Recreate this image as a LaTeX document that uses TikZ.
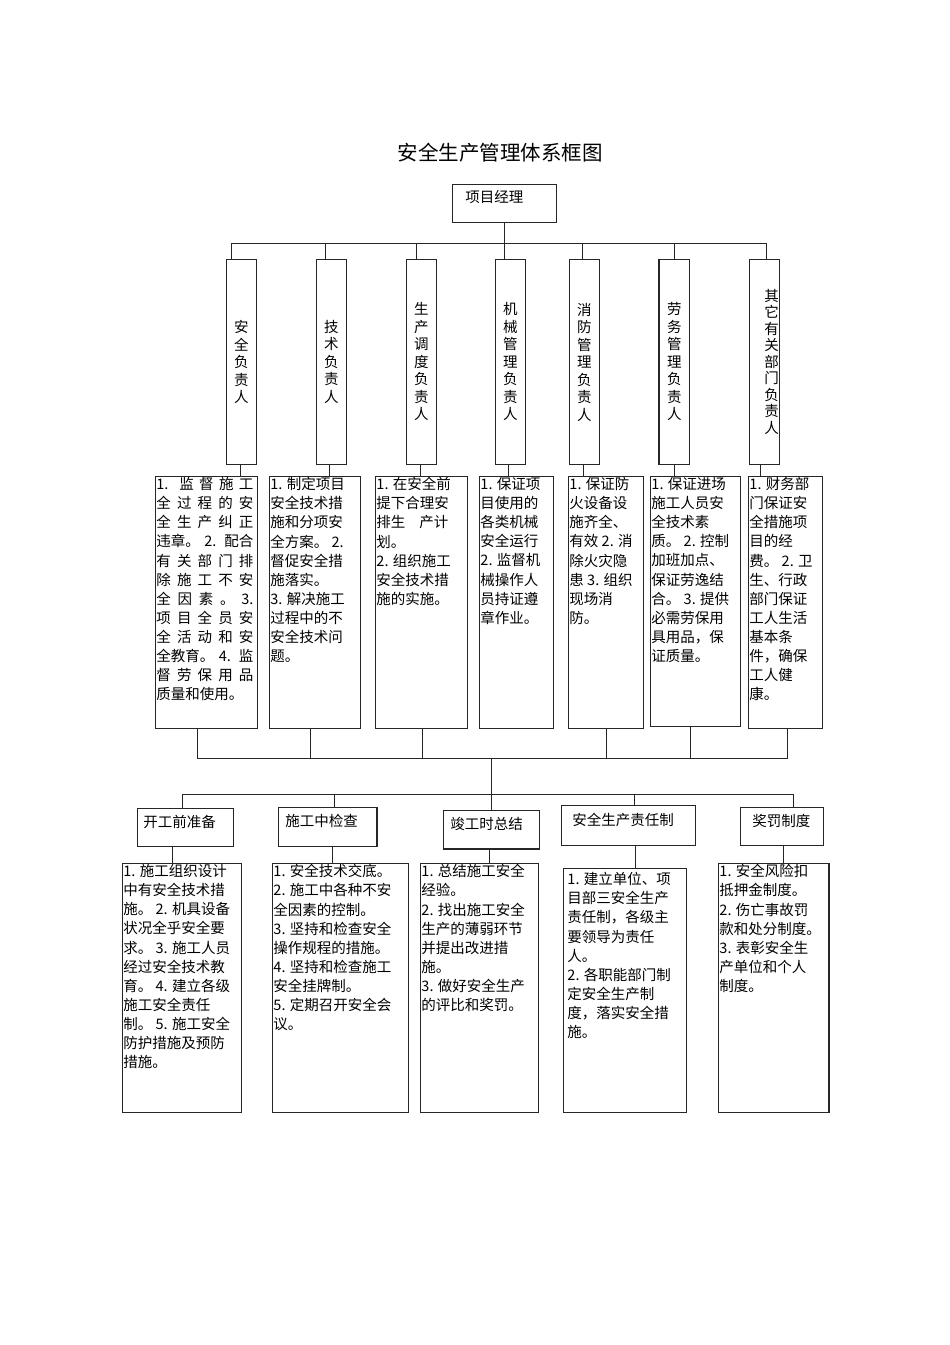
\documentclass[tikz,border=0pt]{standalone}
\usepackage{fontspec}
\setmainfont{Noto Sans CJK SC}

\newcommand\boxtext[3]{\parbox[t][#2][t]{#1}{#3}}
\newcommand\jline[1]{\makebox[97pt][s]{#1}}

\begin{document}
\begin{tikzpicture}[x=1pt, y=-1pt,
  every node/.style={font=\fontsize{14.5}{19.1}\selectfont},
  line/.style={draw=black!85, line width=0.9pt},
  heavy/.style={draw=black!85, line width=1.7pt},
  vbox/.style={line, anchor=north west, minimum width=30pt, minimum height=205pt,
    inner sep=0pt, align=center, font=\fontsize{14.5}{17.5}\selectfont},
  tbox/.style={line, anchor=north west, inner sep=1pt},
  lbox/.style={line, anchor=north west, inner xsep=7pt, inner ysep=7pt}]
\useasboundingbox (0,0) rectangle (950,1345);

\node[font=\fontsize{20.5}{24}\selectfont] (title) at (500,153) {安全生产管理体系框图};
\node[lbox, inner xsep=13pt, inner ysep=6pt] (pm) at (452,184) {\boxtext{78pt}{26pt}{项目经理}};

% responsible persons
\node[vbox] (v1) at (226,259) {安\\全\\负\\责\\人};
\node[vbox] (v2) at (316,259) {技\\术\\负\\责\\人};
\node[vbox] (v3) at (406,259) {生\\产\\调\\度\\负\\责\\人};
\node[vbox] (v4) at (495,259) {机\\械\\管\\理\\负\\责\\人};
\node[vbox] (v5) at (569,259) {消\\防\\管\\理\\负\\责\\人};
\node[vbox] (v6) at (659,259) {劳\\务\\管\\理\\负\\责\\人};
\node[vbox, text width=29pt, inner xsep=0.5pt, align=right,
  font=\fontsize{14.5}{16.5}\selectfont] (v7) at (749,259) {其\\它\\有\\关\\部\\门\\负\\责\\人};

% duties
\node[tbox] (t1) at (155,476) {\boxtext{100pt}{250pt}{\jline{1. 监 督 施 工}\\
  \jline{全 过 程 的 安}\\ \jline{全 生 产 纠 正}\\ \jline{违章。 2. 配合}\\
  \jline{有 关 部 门 排}\\ \jline{除 施 工 不 安}\\ \jline{全 因 素 。 3.}\\
  \jline{项 目 全 员 安}\\ \jline{全 活 动 和 安}\\ \jline{全教育。 4. 监}\\
  \jline{督 劳 保 用 品}\\ 质量和使用。}};
\node[tbox] (t2) at (269,476) {\boxtext{89pt}{250pt}{1. 制定项目\\ 安全技术措\\
  施和分项安\\ 全方案。 2.\\ 督促安全措\\ 施落实。\\ 3. 解决施工\\ 过程中的不\\
  安全技术问\\ 题。}};
\node[tbox] (t3) at (375,476) {\boxtext{90pt}{250pt}{1. 在安全前\\ 提下合理安\\
  \makebox[72pt][s]{排生 产计}\\ 划。\\ 2. 组织施工\\ 安全技术措\\ 施的实施。}};
\node[tbox] (t4) at (479,476) {\boxtext{72pt}{250pt}{1. 保证项\\ 目使用的\\
  各类机械\\ 安全运行\\ 2. 监督机\\ 械操作人\\ 员持证遵\\ 章作业。}};
\node[tbox] (t5) at (568,476) {\boxtext{73pt}{250pt}{1. 保证防\\ 火设备设\\
  施齐全、\\ 有效 2. 消\\ 除火灾隐\\ 患 3. 组织\\ 现场消\\ 防。}};
\node[tbox] (t6) at (650,476) {\boxtext{88pt}{248pt}{1. 保证进场\\ 施工人员安\\
  全技术素\\ 质。 2. 控制\\ 加班加点、\\ 保证劳逸结\\ 合。 3. 提供\\
  必需劳保用\\ 具用品，保\\ 证质量。}};
\node[tbox] (t7) at (748,476) {\boxtext{72pt}{250pt}{1. 财务部\\ 门保证安\\
  全措施项\\ 目的经\\ 费。 2. 卫\\ 生、行政\\ 部门保证\\ 工人生活\\
  基本条\\ 件，确保\\ 工人健\\ 康。}};

% stages
\node[lbox, inner xsep=6pt] (s1) at (137,808) {\boxtext{84pt}{24pt}{开工前准备}};
\node[lbox] (s2) at (278,807) {\boxtext{84pt}{25pt}{施工中检查}};
\node[lbox] (s3) at (443,810) {\boxtext{82pt}{24pt}{竣工时总结}};
\node[lbox, inner xsep=11pt, inner ysep=8pt] (s4) at (561,805) {\boxtext{112pt}{24pt}{安全生产责任制}};
\node[lbox, inner xsep=12pt] (s5) at (740,807) {\boxtext{59pt}{24pt}{奖罚制度}};

% stage details
\node[tbox] (d1) at (122,863) {\boxtext{117pt}{247pt}{1. 施工组织设计\\
  中有安全技术措\\ 施。 2. 机具设备\\ 状况全乎安全要\\ 求。 3. 施工人员\\
  经过安全技术教\\ 育。 4. 建立各级\\ 施工安全责任\\ 制。 5. 施工安全\\
  防护措施及预防\\ 措施。}};
\node[tbox] (d2) at (272,863) {\boxtext{134pt}{247pt}{1. 安全技术交底。\\
  2. 施工中各种不安\\ 全因素的控制。\\ 3. 坚持和检查安全\\ 操作规程的措施。\\
  4. 坚持和检查施工\\ 安全挂牌制。\\ 5. 定期召开安全会\\ 议。}};
\node[tbox] (d3) at (420,863) {\boxtext{116pt}{247pt}{1. 总结施工安全\\
  经验。\\ 2. 找出施工安全\\ 生产的薄弱环节\\ 并提出改进措\\ 施。\\
  3. 做好安全生产\\ 的评比和奖罚。}};
\node[tbox, inner sep=4pt] (d4) at (563,868) {\boxtext{115pt}{236pt}{1. 建立单位、项\\
  目部三安全生产\\ 责任制，各级主\\ 要领导为责任\\ 人。\\ 2. 各职能部门制\\
  定安全生产制\\ 度，落实安全措\\ 施。}};
\node[tbox] (d5) at (718,863) {\boxtext{108pt}{247pt}{1. 安全风险扣\\
  抵押金制度。\\ 2. 伤亡事故罚\\ 款和处分制度。\\ 3. 表彰安全生\\
  产单位和个人\\ 制度。}};

% manager to persons
\draw[line] (pm.south) -- (pm.south |- v4.north);
\draw[line] ([xshift=-10pt]v1.north) -- ++(0,-16) -| ([xshift=1.5pt]v7.north);
\foreach \n/\dx in {2/-6, 3/-5, 5/-2, 6/0} {
  \coordinate (p) at ([xshift=\dx pt]v\n.north);
  \draw[line] (p) -- ++(0,-16);
}

% persons to duties
\foreach \n/\dx in {1/-1, 2/-2, 3/-1, 4/-2, 5/-1, 7/-4.5} {
  \coordinate (p) at ([xshift=\dx pt]v\n.south);
  \draw[line] (p) -- (p |- t\n.north);
}
\draw[heavy] (v6.south) -- (v6.south |- t6.north);

% duties to stages
\coordinate (bus2) at ([yshift=-30pt]t1.south -| s3.north);
\draw[line] ([xshift=-9pt]t1.south |- bus2) -- ([xshift=2pt]t7.south |- bus2);
\draw[heavy] ([xshift=-9pt]t1.south) -- ([xshift=-9pt]t1.south |- bus2);
\foreach \n/\dx in {2/-4.5, 3/1, 5/0.5, 6/-5, 7/2} {
  \coordinate (p) at ([xshift=\dx pt]t\n.south);
  \draw[line] (p) -- (p |- bus2);
}
\draw[line] (bus2) -- (s3.north);
\coordinate (bus3) at ([yshift=16pt]s3.north);
\draw[line] ([xshift=-3pt]s1.north) |- (bus3) -| ([xshift=11.5pt]s5.north);
\foreach \n/\dx in {2/7, 4/6} {
  \coordinate (p) at ([xshift=\dx pt]s\n.north);
  \draw[line] (p) -- (p |- bus3);
}

% stages to details
\foreach \n/\dx in {1/-13, 3/-2, 5/1.5} {
  \coordinate (p) at ([xshift=\dx pt]s\n.south);
  \draw[line] (p) -- (p |- d\n.north);
}
\foreach \n/\dx in {2/5, 4/7} {
  \coordinate (p) at ([xshift=\dx pt]s\n.south);
  \draw[heavy] (p) -- (p |- d\n.north);
}

% heavier edges
\draw[heavy] (v6.north west) -- (v6.south west);
\draw[heavy] (s2.north east) -- (s2.south east);
\draw[heavy] (s3.south west) -- (s3.south east);
\draw[heavy] (d5.north east) -- (d5.south east);
\end{tikzpicture}
\end{document}
